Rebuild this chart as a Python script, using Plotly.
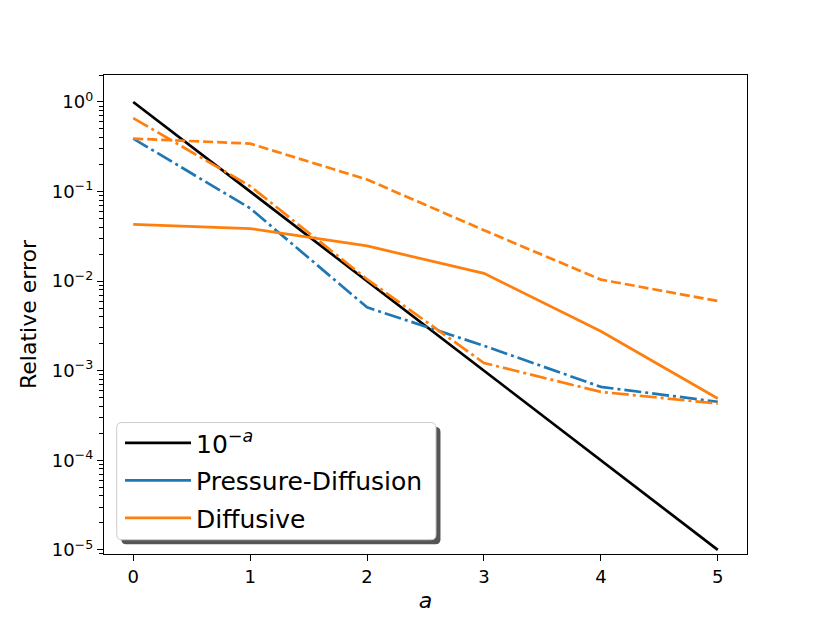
import plotly.graph_objects as go

# Data
a_vals = [0, 1, 2, 3, 4, 5]
reference = [1.0, 1e-1, 1e-2, 1e-3, 1e-4, 1e-5]
pressure_diffusion = [0.39, 0.065, 0.0051, 0.0019, 0.00066, 0.00045]
diffusive_solid = [0.043, 0.0386, 0.0247, 0.0122, 0.00276, 0.00049]
diffusive_dashed = [0.39, 0.343, 0.136, 0.037, 0.0104, 0.006]
diffusive_dashdot = [0.66, 0.115, 0.0105, 0.00122, 0.00058, 0.00043]

y_tick_vals = [1e0, 1e-1, 1e-2, 1e-3, 1e-4, 1e-5]
y_tick_text = ["10<sup>0</sup>", "10<sup>−1</sup>", "10<sup>−2</sup>",
               "10<sup>−3</sup>", "10<sup>−4</sup>", "10<sup>−5</sup>"]
y_minor_vals = [m * 10.0 ** e for e in range(-6, 1) for m in range(2, 10)]

BLACK = "#000000"
BLUE = "#1f77b4"
ORANGE = "#ff7f0e"
LW = 2.7
FONT = "DejaVu Sans"

# page is offset 8px by the html body margin, so the figure is 8px smaller
W, H = 822, 615
M_L, M_R, M_T, M_B = 96, 83, 67, 68.5
PW = W - M_L - M_R
PH = H - M_T - M_B


def rounded_box(x0, x1, y0, y1, r=5):
    # x/y in paper units, r in pixels
    rx, ry = r / PW, r / PH
    return (f"M{x0 + rx},{y0} L{x1 - rx},{y0} Q{x1},{y0} {x1},{y0 + ry} "
            f"L{x1},{y1 - ry} Q{x1},{y1} {x1 - rx},{y1} "
            f"L{x0 + rx},{y1} Q{x0},{y1} {x0},{y1 - ry} "
            f"L{x0},{y0 + ry} Q{x0},{y0} {x0 + rx},{y0} Z")


fig = go.Figure()

# Data lines
fig.add_trace(go.Scatter(x=a_vals, y=reference, mode="lines", showlegend=False,
                         line=dict(color=BLACK, width=LW)))
fig.add_trace(go.Scatter(x=a_vals, y=pressure_diffusion, mode="lines", showlegend=False,
                         line=dict(color=BLUE, width=LW, dash="17px,4px,3px,4px")))
fig.add_trace(go.Scatter(x=a_vals, y=diffusive_solid, mode="lines", showlegend=False,
                         line=dict(color=ORANGE, width=LW)))
fig.add_trace(go.Scatter(x=a_vals, y=diffusive_dashed, mode="lines", showlegend=False,
                         line=dict(color=ORANGE, width=LW, dash="10px,4px")))
fig.add_trace(go.Scatter(x=a_vals, y=diffusive_dashdot, mode="lines", showlegend=False,
                         line=dict(color=ORANGE, width=LW, dash="17px,4px,3px,4px")))

# Legend entries (solid handles, like the reference)
legend_items = [("10<sup><i>−a</i></sup>", BLACK), ("Pressure-Diffusion", BLUE), ("Diffusive", ORANGE)]
for i, (name, color) in enumerate(legend_items):
    fig.add_trace(go.Scatter(x=[None], y=[None], mode="lines", name=name, legendgroup=f"g{i}",
                             line=dict(color=color, width=LW)))

# legend frame with matplotlib-like shadow
bx0, bx1, by0, by1 = 0.0198, 0.5163, 0.0298, 0.2744
sx, sy = 4.5 / PW, 4.5 / PH
fig.add_shape(type="path", xref="paper", yref="paper",
              path=rounded_box(bx0 + sx, bx1 + sx, by0 - sy, by1 - sy),
              fillcolor="#555555", line=dict(width=0), layer="above")
fig.add_shape(type="path", xref="paper", yref="paper",
              path=rounded_box(bx0, bx1, by0, by1),
              fillcolor="white", line=dict(color="#cccccc", width=1), layer="above")

fig.update_layout(
    width=W, height=H,
    paper_bgcolor="white", plot_bgcolor="white",
    font=dict(family=FONT, color="black", size=18),
    margin=dict(l=M_L, r=M_R, t=M_T, b=M_B, pad=0),
    showlegend=True,
    legend=dict(
        x=0.0249, y=by1 + 2.5 / PH, xanchor="left", yanchor="top",
        bgcolor="rgba(0,0,0,0)", borderwidth=0, itemwidth=66,
        font=dict(size=25, family=FONT), tracegroupgap=2,
    ),
)

fig.update_xaxes(
    range=[-0.25, 5.25], tickvals=a_vals, ticks="outside", ticklen=6, tickwidth=1.4,
    tickcolor="black", showline=True, linecolor="black", linewidth=1.4, mirror=True,
    showgrid=False, zeroline=False, tickfont=dict(size=18),
    title=dict(text="<i>a</i>", font=dict(size=22), standoff=6),
)
fig.update_yaxes(
    type="log", range=[-5.046, 0.301], tickvals=y_tick_vals, ticktext=y_tick_text,
    ticks="outside", ticklen=6, tickwidth=1.4, tickcolor="black",
    showline=True, linecolor="black", linewidth=1.4, mirror=True,
    showgrid=False, zeroline=False, tickfont=dict(size=18),
    minor=dict(tickmode="array", tickvals=y_minor_vals, ticks="outside", ticklen=3.5,
               tickwidth=1, tickcolor="black", showgrid=False),
    title=dict(text="Relative error", font=dict(size=22), standoff=9),
)

fig.write_html("out.html")
